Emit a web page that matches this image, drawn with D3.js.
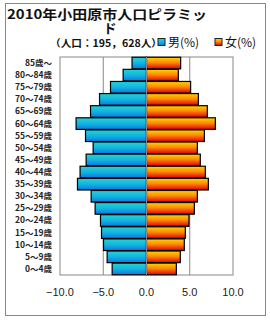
<!DOCTYPE html>
<html><head><meta charset="utf-8">
<script src="https://cdn.jsdelivr.net/npm/d3@7"></script>
<style>body{margin:0;background:#fff}svg{display:block}</style>
</head><body>
<script>
const categories = ["85歳～","80～84歳","75～79歳","70～74歳","65～69歳","60～64歳","55～59歳","50～54歳","45～49歳","40～44歳","35～39歳","30～34歳","25～29歳","20～24歳","15～19歳","10～14歳","5～9歳","0～4歳"];
const male = [1.67,2.7,4.16,5.43,6.47,8.14,7.05,6.17,6.98,7.68,7.98,6.4,5.94,5.32,5.2,4.97,4.55,3.97];
const female = [3.95,3.68,5.1,6.0,7.03,7.96,6.69,5.88,6.22,6.8,7.15,5.88,5.53,4.91,4.49,4.37,3.91,3.45];
const xTicks = [-10,-5,0,5,10];
const xTickLabels = ["−10.0","−5.0","0.0","5.0","10.0"];
const titleLines = ["2010年小田原市人口ピラミッ","ド"];
const subtitle = "（人口：195，628人）";
const legendLabels = ["男(%)","女(%)"];

const W=270,H=320;
const svg=d3.select("body").append("svg").attr("width",W).attr("height",H);
const defs=svg.append("defs");
function grad(id,stops){
  const g=defs.append("linearGradient").attr("id",id).attr("x1",0).attr("y1",0).attr("x2",0).attr("y2",1);
  stops.forEach(s=>g.append("stop").attr("offset",s[0]).attr("stop-color",s[1]));
}
grad("gm",[[0,"#22d4d6"],[0.5,"#14b4e0"],[1,"#0a78e0"]]);
grad("gf",[[0,"#ffd400"],[0.45,"#ff8c00"],[1,"#e00000"]]);

svg.append("rect").attr("x",5.5).attr("y",3.5).attr("width",260).attr("height",312)
  .attr("fill","#fff").attr("stroke","#888").attr("stroke-width",1);

const x=d3.scaleLinear().domain([-10,10]).range([60,233]);
const y=d3.scaleBand().domain(categories).range([57,275]).paddingInner(0.04).paddingOuter(0.02);

const g=svg.append("g");
g.append("rect").attr("x",x(-10)).attr("y",57).attr("width",x(10)-x(-10)).attr("height",275-57)
  .attr("fill","none").attr("stroke","#888");
g.selectAll(".grid").data(xTicks.slice(1,-1)).join("line")
  .attr("x1",d=>x(d)).attr("x2",d=>x(d)).attr("y1",57).attr("y2",275)
  .attr("stroke","#888").attr("stroke-width",1);

g.selectAll(".m").data(categories).join("rect")
  .attr("x",(d,i)=>x(-male[i])).attr("y",d=>y(d)).attr("width",(d,i)=>x(0)-x(-male[i]))
  .attr("height",y.bandwidth()).attr("fill","url(#gm)").attr("stroke","#000").attr("stroke-width",1.2);
g.selectAll(".f").data(categories).join("rect")
  .attr("x",x(0)).attr("y",d=>y(d)).attr("width",(d,i)=>x(female[i])-x(0))
  .attr("height",y.bandwidth()).attr("fill","url(#gf)").attr("stroke","#000").attr("stroke-width",1.2);
g.append("line").attr("x1",x(0)).attr("x2",x(0)).attr("y1",57).attr("y2",275).attr("stroke","#888");

g.selectAll(".yl").data(categories).join("text")
  .attr("x",52).attr("y",d=>y(d)+y.bandwidth()/2).attr("dy","0.35em")
  .attr("text-anchor","end").attr("font-family","'Noto Sans CJK JP'").attr("font-size",8.5)
  .attr("font-weight","bold").attr("fill","#222").text(d=>d);

g.selectAll(".xl").data(xTicks).join("text")
  .attr("x",d=>x(d)).attr("y",292).attr("dy","0.35em").attr("text-anchor","middle")
  .attr("font-family","'Liberation Sans',Arial").attr("font-size",11).attr("fill","#222")
  .text((d,i)=>xTickLabels[i]);

svg.append("text").attr("x",7).attr("y",19).attr("font-family","'Noto Sans CJK JP'")
  .attr("font-size",13).attr("font-weight","bold").attr("fill","#111")
  .attr("textLength",200).attr("lengthAdjust","spacingAndGlyphs").text(titleLines[0]);
svg.append("text").attr("x",110).attr("y",33).attr("text-anchor","middle").attr("font-family","'Noto Sans CJK JP'")
  .attr("font-size",13).attr("font-weight","bold").attr("fill","#111").text(titleLines[1]);
svg.append("text").attr("x",50).attr("y",47).attr("font-family","'Noto Sans CJK JP'")
  .attr("font-size",10).attr("font-weight","bold").attr("fill","#111")
  .attr("textLength",112).attr("lengthAdjust","spacingAndGlyphs").text(subtitle);

const lg=[{x:158,fill:"url(#gm)"},{x:215,fill:"url(#gf)"}];
lg.forEach((l,i)=>{
  svg.append("rect").attr("x",l.x).attr("y",38.5).attr("width",7).attr("height",7)
    .attr("fill",l.fill).attr("stroke","#222").attr("stroke-width",1);
  svg.append("text").attr("x",l.x+10).attr("y",47).attr("font-family","'Noto Sans CJK JP'")
    .attr("font-size",12).attr("fill","#111").text(legendLabels[i]);
});
</script>
</body></html>
